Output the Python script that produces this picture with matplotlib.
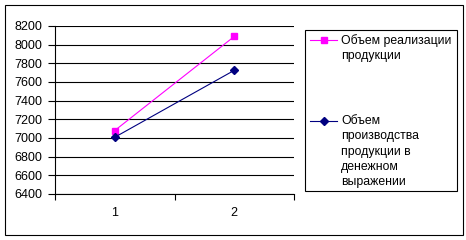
import matplotlib
matplotlib.use("Agg")
from matplotlib import pyplot as plt
from matplotlib.lines import Line2D
from matplotlib.patches import Rectangle

categories = ["1", "2"]
sales = [7080, 8088]          # Объем реализации продукции
production = [7008, 7725]     # Объем производства продукции в денежном выражении
sales_label = "Объем реализации\nпродукции"
production_label = "Объем\nпроизводства\nпродукции в\nденежном\nвыражении"
y_ticks = list(range(6400, 8201, 200))

W, H = 466, 240
plt.rcParams['font.family'] = ['Liberation Sans', 'DejaVu Sans']

fig = plt.figure(figsize=(W / 100, H / 100), dpi=100)
fig.patches.append(Rectangle((5 / W, 5 / H), 458 / W, 230 / H, transform=fig.transFigure,
                             fill=False, edgecolor="black", linewidth=0.8))

ax = fig.add_axes([55 / W, (H - 194) / H, (294 - 55) / W, (194 - 26) / H])
x = list(range(1, len(categories) + 1))
ax.plot(x, sales, color="#FF00FF", marker="s", markersize=5, linewidth=0.8,
        markeredgecolor="#FF00FF", markerfacecolor="#FF00FF")
ax.plot(x, production, color="#000080", marker="D", markersize=4.5, linewidth=0.8,
        markeredgecolor="#000080", markerfacecolor="#000080")

ax.set_xlim(0.5, len(categories) + 0.5)
ax.set_ylim(6400, 8200)
ax.set_yticks(y_ticks)
ax.yaxis.grid(True, color="black", linewidth=0.8)
ax.set_axisbelow(True)
ax.set_xticks([i + 0.5 for i in range(len(categories) + 1)])
ax.set_xticklabels([])
ax.set_xticks(x, minor=True)
ax.set_xticklabels(categories, minor=True)
ax.tick_params(axis="x", which="major", direction="out", length=4, width=0.8)
ax.tick_params(axis="x", which="minor", length=0, pad=9, labelsize=9)
ax.tick_params(axis="y", direction="out", length=5, width=0.8, pad=4, labelsize=9)
for s in ["top", "right"]:
    ax.spines[s].set_visible(False)
for s in ["left", "bottom"]:
    ax.spines[s].set_linewidth(0.8)

# legend box
fig.patches.append(Rectangle((305 / W, (H - 191) / H), 152 / W, 161 / H, transform=fig.transFigure,
                             fill=False, edgecolor="black", linewidth=0.8))
entries = [(sales_label, "#FF00FF", "s", 5, 40), (production_label, "#000080", "D", 4.5, 121)]
for label, col, mk, ms, ytop in entries:
    yf = (H - ytop) / H
    fig.add_artist(Line2D([310 / W, 337 / W], [yf, yf], transform=fig.transFigure,
                          color=col, linewidth=0.8))
    fig.add_artist(Line2D([323.5 / W], [yf], transform=fig.transFigure, color=col,
                          marker=mk, markersize=ms, linestyle="none"))
    fig.text(341 / W, (H - ytop + 6) / H, label, fontsize=8.8, va="top", ha="left",
             linespacing=1.37)

fig.savefig("out.png", dpi=100)
